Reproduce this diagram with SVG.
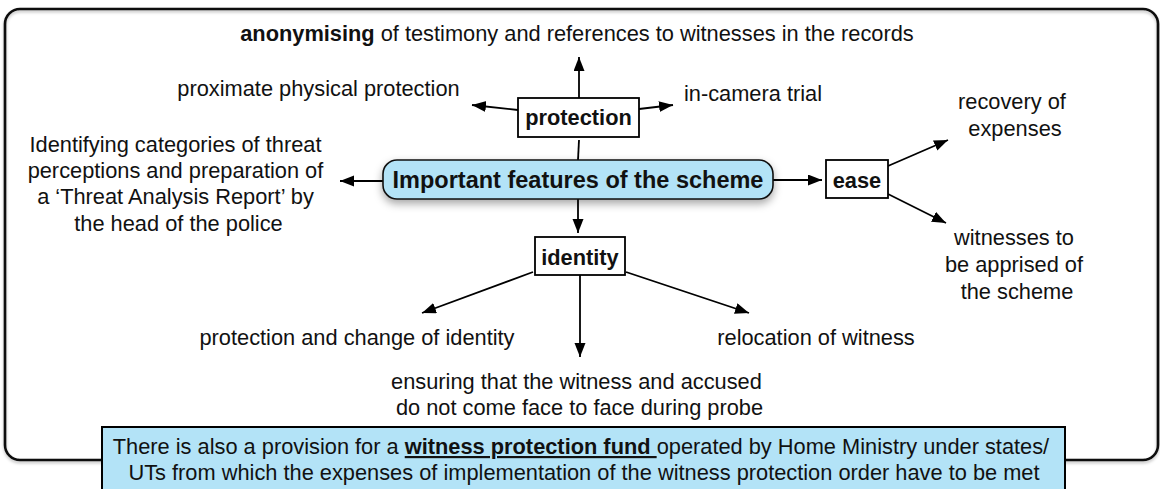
<svg xmlns="http://www.w3.org/2000/svg" width="1160" height="489" viewBox="0 0 1160 489">
  <defs>
    <marker id="arrow" markerUnits="userSpaceOnUse" markerWidth="15" markerHeight="12" refX="14" refY="5.5" orient="auto">
      <path d="M0,0 L14,5.5 L0,11 z" fill="#000"/>
    </marker>
    <filter id="shadow" x="-10%" y="-40%" width="120%" height="200%">
      <feDropShadow dx="0" dy="4" stdDeviation="4" flood-color="#000" flood-opacity="0.35"/>
    </filter>
    <filter id="frameShadow" x="-5%" y="-5%" width="110%" height="110%">
      <feDropShadow dx="0" dy="2" stdDeviation="1.5" flood-color="#000" flood-opacity="0.25"/>
    </filter>
  </defs>
  <style>
    text { font-family: "Liberation Sans", Arial, Helvetica, sans-serif; fill: #111; }
    .t { font-size: 21.8px; }
    .b { font-size: 21.8px; font-weight: bold; }
    .box { fill: #fff; stroke: #000; stroke-width: 1.8; }
    .conn line { stroke: #000; stroke-width: 1.8; }
    .arr { marker-end: url(#arrow); }
  </style>
  <rect width="1160" height="489" fill="#fff"/>

  <!-- outer frame -->
  <g id="frame">
    <rect x="5" y="9" width="1153" height="451" rx="15" ry="15" fill="none" stroke="#111" stroke-width="2.6" filter="url(#frameShadow)"/>
  </g>

  <!-- connectors -->
  <g id="connectors" class="conn">
    <line x1="579" y1="98" x2="579" y2="57" class="arr"/>
    <line x1="518" y1="110" x2="472" y2="105" class="arr"/>
    <line x1="639" y1="109" x2="673" y2="105" class="arr"/>
    <line x1="579" y1="140" x2="578" y2="160"/>
    <line x1="383" y1="181" x2="340" y2="181" class="arr"/>
    <line x1="773" y1="180" x2="822" y2="180" class="arr"/>
    <line x1="578" y1="199" x2="578" y2="233" class="arr"/>
    <line x1="888" y1="166" x2="948" y2="140" class="arr"/>
    <line x1="888" y1="194" x2="946" y2="223" class="arr"/>
    <line x1="533" y1="272" x2="422" y2="313" class="arr"/>
    <line x1="580" y1="275" x2="580" y2="357" class="arr"/>
    <line x1="626" y1="272" x2="749" y2="313" class="arr"/>
  </g>

  <g id="anonymising">
    <text class="t" x="577" y="41" text-anchor="middle"><tspan font-weight="bold">anonymising</tspan> of testimony and references to witnesses in the records</text>
  </g>
  <g id="proximate">
    <text class="t" x="318.5" y="96" text-anchor="middle">proximate physical protection</text>
  </g>
  <g id="incamera">
    <text class="t" x="753" y="101" text-anchor="middle">in-camera trial</text>
  </g>

  <g id="protection">
    <rect class="box" x="518" y="98" width="121" height="39"/>
    <text class="b" x="578.5" y="125" text-anchor="middle">protection</text>
  </g>

  <g id="central">
    <rect x="383" y="160" width="390" height="39" rx="14" ry="14" fill="#b3e3f7" stroke="#111" stroke-width="1.6" filter="url(#shadow)"/>
    <text x="578" y="187.5" text-anchor="middle" font-size="23.5" font-weight="bold">Important features of the scheme</text>
  </g>

  <g id="threat">
    <text class="t" text-anchor="middle">
      <tspan x="178.5" y="151.5">Identifying categories of threat</tspan>
      <tspan x="178.5" y="177.5">perceptions and preparation of</tspan>
      <tspan x="178.5" y="204">a ‘Threat Analysis Report’ by</tspan>
      <tspan x="178.5" y="230.5">the head of the police</tspan>
    </text>
  </g>

  <g id="ease">
    <rect class="box" x="826" y="160" width="62" height="38"/>
    <text class="b" x="857" y="188" text-anchor="middle">ease</text>
  </g>

  <g id="recovery">
    <text class="t" text-anchor="middle">
      <tspan x="1015" y="109">recovery of</tspan>
      <tspan x="1015" y="135.5">expenses</tspan>
    </text>
  </g>

  <g id="apprised">
    <text class="t" text-anchor="middle">
      <tspan x="1017" y="245">witnesses to</tspan>
      <tspan x="1017" y="272">be apprised of</tspan>
      <tspan x="1017" y="299">the scheme</tspan>
    </text>
  </g>

  <g id="identity">
    <rect class="box" x="535" y="237" width="90" height="38"/>
    <text class="b" x="580" y="265" text-anchor="middle">identity</text>
  </g>

  <g id="changeidentity">
    <text class="t" x="357" y="345" text-anchor="middle">protection and change of identity</text>
  </g>
  <g id="relocation">
    <text class="t" x="816" y="345" text-anchor="middle">relocation of witness</text>
  </g>
  <g id="faceToFace">
    <text class="t" text-anchor="middle">
      <tspan x="579.5" y="388.5">ensuring that the witness and accused</tspan>
      <tspan x="579.5" y="414.5">do not come face to face during probe</tspan>
    </text>
  </g>

  <g id="fund">
    <rect x="102" y="427" width="963" height="70" fill="#b3e3f7" stroke="#000" stroke-width="2"/>
    <text class="t" text-anchor="middle">
      <tspan x="584" y="454">There is also a provision for a <tspan font-weight="bold" text-decoration="underline">witness protection fund </tspan>operated by Home Ministry under states/</tspan>
      <tspan x="584" y="480">UTs from which the expenses of implementation of the witness protection order have to be met</tspan>
    </text>
  </g>
</svg>
